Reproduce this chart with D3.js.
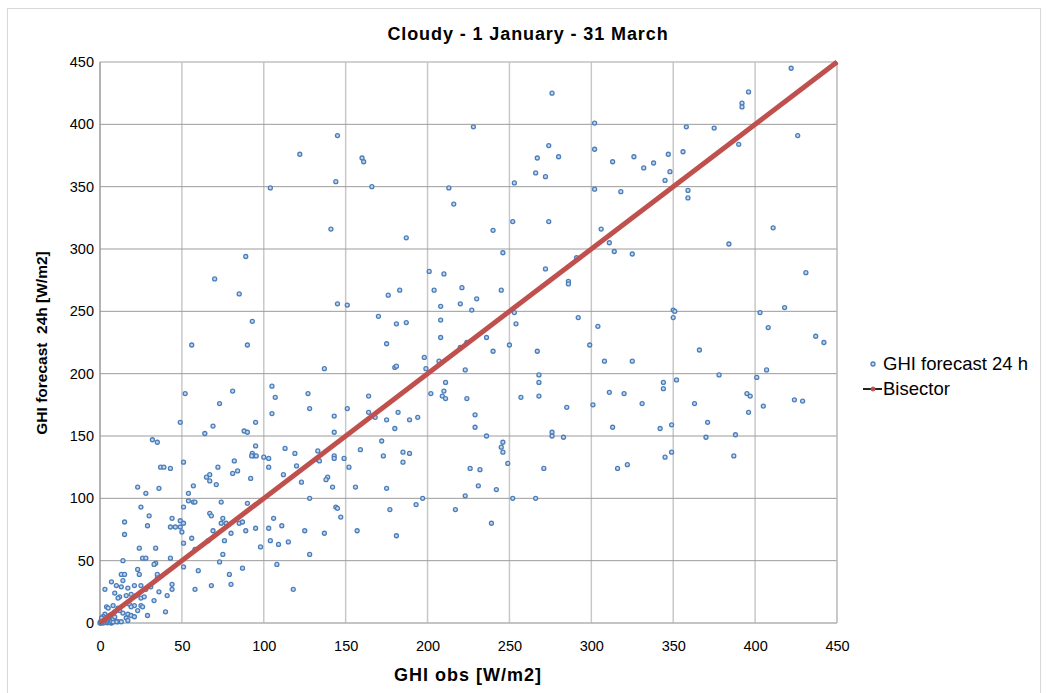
<!DOCTYPE html>
<html>
<head>
<meta charset="utf-8">
<script src="https://cdn.jsdelivr.net/npm/d3@7"></script>
<style>
  html, body { margin: 0; padding: 0; background: #ffffff; }
  svg { display: block; font-family: "Liberation Sans", Arial, sans-serif; }
</style>
</head>
<body>
<svg id="chart" width="1046" height="693"></svg>
<script>
// Observed GHI [W/m2] and the matching 24 h forecast [W/m2], cloudy days, 1 Jan - 31 Mar
const ghiObs = [
  145,122,144,104,141,
  276,228,274,280,267,266,272,253,160,161,166,213,216,252,274,240,187,
  422,396,392,392,302,358,375,426,390,302,356,347,313,326,338,332,348,345,302,318,359,359,306,411,311,384,
  89,70,85,145,93,56,90,137,105,52,81,107,127,73,128,105,143,49,69,95,
  246,201,210,272,176,183,204,221,245,286,286,291,151,208,220,230,227,253,254,292,170,181,187,208,208,175,236,224,220,240,250,267,299,198,207,180,181,199,223,268,268,211,164,202,210,209,211,224,257,268,285,151,164,182,168,175,194,189,229,229,180,
  314,325,431,418,350,351,403,350,304,408,437,442,366,308,325,407,378,401,344,352,344,311,320,395,397,424,429,301,331,363,405,396,371,313,342,349,
  370,388,349,345,387,316,322,
  236,276,276,283,172,159,149,173,185,189,185,152,246,245,246,249,226,232,271,156,175,231,242,223,197,193,252,266,177,217,239,157,181,147,
  64,88,90,143,32,35,95,113,93,94,92.6,95.4,100,103,119,133,133,134,143,143,51,82,37,39,43,72,103,120,84,81,67,65,112,139,138,92,67,71,57,123,142,23,36,28,54,54,57,58,51,74,90,128,25,30,44,49,67,68,75,74,77,85,87,106,144,145,
  15,29,43,46,49,51,50,15,69,80,89,95,103,111,125,137,56,66,76,104,109,115,51,58,24,34,98,75,128,26,28,14,34,43,73,108,87,51,23,33,60,79,68,80,58,118,
  13,15,24,7,14,35,35,44,44,36,41,3,10,13,17,21,25,28,31,19,16,12,9,11,22,25,27,33,18,21,25,26,19,23,40,29,4,5,8,11,12,9,3,6,14,17,19,21,16,11,13,17,2,10,7,
  0,0.5,1,1.5,2,2.5,3,3.5,4,4.5,5,5.5,6,6.5,1,2,0.3,7,8,3,4,5,2,1,6,7,8,9
];
const ghiForecast24h = [
  391,376,354,349,316,
  425,398,383,374,373,361,358,353,373,370,350,349,336,322,322,315,309,
  445,426,417,414,401,398,397,391,384,380,378,376,370,374,369,365,362,355,348,346,347,341,316,317,305,304,
  294,276,264,256,242,223,223,204,190,184,186,181,184,176,172,168,166,161,158,161,
  297,282,280,284,263,267,267,269,267,274,272,293,255,254,256,260,251,249,240,245,246,240,241,243,229,224,229,225,221,218,223,218,223,213,210,205,206,204,203,199,193,193,182,184,186,182,180,180,181,182,173,172,169,169,165,163,165,163,167,157,156,
  298,296,281,253,251,250,249,245,238,237,230,225,219,210,210,203,199,197,193,195,188,185,184,184,182,179,178,175,176,176,174,169,161,157,156,159,
  149,151,137,133,134,124,127,
  150,153,150,149,146,139,132,134,137,136,129,125,145,141,137,128,124,123,124,109,108,110,107,102,100,95,100,100,91,91,80,74,70,85,
  152,154,153,153,147,145,142,140,136,134,134,134,133,132,136,138,131,130,134,132,129,130,125,125,124,125,125,126,122,120,119,117,119,117,115,116,114,111,110,113,109,109,108,104,104,98,97,97,93,97,96,100,93,86,84,82,88,86,84,80,80,80,81,84,93,92,
  81,78,77,77,77,80,73,71,74,72,74,76,76,78,74,72,68,66,66,66,63,65,64,59,60,60,61,55,55,52,52,50,48,52,49,47,44,45,43,47,42,39,30,31,27,27,
  39,39,39,33,34,39,36,31,27,25,22,27,30,29,28,30,30,27,29,23,22,21,24,20,22,20,21,18,15,14,14,13,13,10,9,6,13,12,14,12,10,9,7,6,8,7,6,5,4,1,1,2,5,1,0,
  0,0,0.3,0.8,0,1.2,0.5,2,1,0.2,1.5,0.6,2.5,0.3,2,3,1.1,1.2,0.8,4,3,4.5,5,4,6,5,3.5,4.8
];
// Bisector endpoints (y = x)
const bisector = [0, 450];
// Axis tick values
const xTicks = [0, 50, 100, 150, 200, 250, 300, 350, 400, 450];
const yTicks = [0, 50, 100, 150, 200, 250, 300, 350, 400, 450];

const chartTitle = "Cloudy - 1 January - 31 March";
const xTitle = "GHI obs [W/m2]";
const yTitle = "GHI forecast  24h [W/m2]";
const seriesNames = ["GHI forecast 24 h", "Bisector"];

const svg = d3.select("#chart");
const plot = { left: 100, right: 837, top: 62, bottom: 623 };

const x = d3.scaleLinear().domain([0, 450]).range([plot.left, plot.right]);
const y = d3.scaleLinear().domain([0, 450]).range([plot.bottom, plot.top]);

// Outer chart frame (dotted)
svg.append("rect")
  .attr("x", 7.5).attr("y", 8.5).attr("width", 1033).attr("height", 720)
  .attr("fill", "none").attr("stroke", "#b0b0b0").attr("stroke-width", 1)
  .attr("stroke-dasharray", "1,1");

// Title
svg.append("text")
  .attr("x", 528).attr("y", 40)
  .attr("text-anchor", "middle")
  .attr("font-size", 18).attr("font-weight", "bold")
  .attr("letter-spacing", 0.9)
  .attr("fill", "#000")
  .text(chartTitle);

// Gridlines
const grid = svg.append("g");
grid.selectAll("line.v").data(xTicks.filter(d => d > 0 && d < 450)).join("line")
  .attr("x1", d => x(d)).attr("x2", d => x(d))
  .attr("y1", plot.top).attr("y2", plot.bottom)
  .attr("stroke", "#c8c8c8").attr("stroke-width", 1.5);
grid.selectAll("line.h").data(yTicks.filter(d => d > 0 && d < 450)).join("line")
  .attr("x1", plot.left).attr("x2", plot.right)
  .attr("y1", d => y(d)).attr("y2", d => y(d))
  .attr("stroke", "#9c9c9c").attr("stroke-width", 1);
// plot frame
grid.append("line").attr("x1", plot.left).attr("x2", plot.right)
  .attr("y1", y(450)).attr("y2", y(450)).attr("stroke", "#c0c0c0").attr("stroke-width", 1.5);
grid.append("line").attr("x1", x(450)).attr("x2", x(450))
  .attr("y1", plot.top).attr("y2", plot.bottom).attr("stroke", "#b8b8b8").attr("stroke-width", 1.5);
grid.append("line").attr("x1", plot.left).attr("x2", plot.right)
  .attr("y1", y(0)).attr("y2", y(0)).attr("stroke", "#b0b0b0").attr("stroke-width", 1.5);
grid.append("line").attr("x1", x(0)).attr("x2", x(0))
  .attr("y1", plot.top).attr("y2", plot.bottom).attr("stroke", "#9a9a9a").attr("stroke-width", 1.5);

// Axes (labels only)
const xAxis = svg.append("g")
  .attr("transform", `translate(0,${plot.bottom + 12})`)
  .call(d3.axisBottom(x).tickValues(xTicks).tickSize(0).tickPadding(6));
const yAxis = svg.append("g")
  .attr("transform", `translate(${plot.left - 5},0)`)
  .call(d3.axisLeft(y).tickValues(yTicks).tickSize(0).tickPadding(1));
[xAxis, yAxis].forEach(g => {
  g.select(".domain").remove();
  g.selectAll("text")
    .attr("font-family", "Liberation Sans, Arial, sans-serif")
    .attr("font-size", 14.5).attr("fill", "#000");
});

// Axis titles
svg.append("text")
  .attr("x", 468).attr("y", 681)
  .attr("text-anchor", "middle")
  .attr("font-size", 18).attr("font-weight", "bold")
  .attr("letter-spacing", 1)
  .text(xTitle);
svg.append("text")
  .attr("transform", "translate(47,343) rotate(-90)")
  .attr("text-anchor", "middle")
  .attr("font-size", 15.5).attr("font-weight", "bold")
  .style("white-space", "pre")
  .text(yTitle);

// Scatter: GHI forecast 24 h vs observed
const points = ghiObs.map((v, i) => ({ obs: v, fc: ghiForecast24h[i] }));
svg.append("g").selectAll("circle").data(points).join("circle")
  .attr("cx", d => x(d.obs)).attr("cy", d => y(d.fc))
  .attr("r", 2)
  .attr("fill", "#c6d6ec")
  .attr("stroke", "#4a7ebb").attr("stroke-width", 1.3);

// Bisector y = x
const line = d3.line().x(d => x(d)).y(d => y(d));
svg.append("path").datum(bisector)
  .attr("d", line)
  .attr("fill", "none").attr("stroke", "#1e1e1e").attr("stroke-width", 2);
svg.append("path").datum(bisector)
  .attr("d", line)
  .attr("fill", "none").attr("stroke", "#c0504d").attr("stroke-width", 5)
  .attr("stroke-linecap", "butt");

// Legend
const legend = svg.append("g");
legend.append("circle").attr("cx", 873).attr("cy", 364).attr("r", 2)
  .attr("fill", "#c6d6ec").attr("stroke", "#4a7ebb").attr("stroke-width", 1.3);
legend.append("text").attr("x", 883).attr("y", 370)
  .attr("font-size", 18.5).text(seriesNames[0]);
legend.append("line").attr("x1", 863).attr("x2", 882).attr("y1", 389).attr("y2", 389)
  .attr("stroke", "#222").attr("stroke-width", 2);
legend.append("circle").attr("cx", 873).attr("cy", 389).attr("r", 2)
  .attr("fill", "#c0504d").attr("stroke", "#c0504d");
legend.append("text").attr("x", 883).attr("y", 395)
  .attr("font-size", 18.5).text(seriesNames[1]);
</script>
</body>
</html>
